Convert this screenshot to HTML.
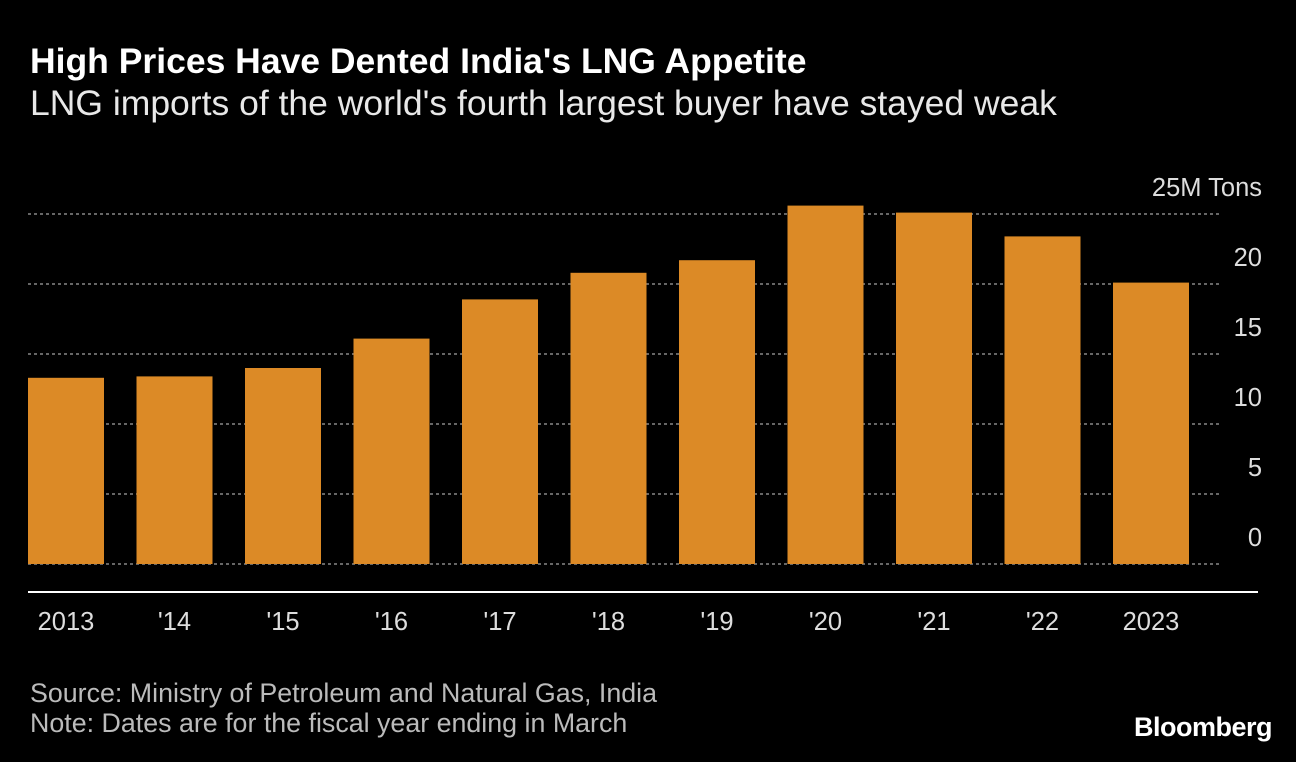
<!DOCTYPE html>
<html><head><meta charset="utf-8"><style>
body{margin:0;background:#000;width:1296px;height:762px;overflow:hidden;font-family:"Liberation Sans",sans-serif;color:#fff}
#title{position:absolute;left:30px;top:44px;font-size:35.5px;line-height:1;font-weight:bold;white-space:nowrap}
#sub{position:absolute;left:30px;top:86px;font-size:35.5px;line-height:1;color:#e8e8e8;white-space:nowrap}
#src{position:absolute;left:30px;top:678px;font-size:26.8px;color:#bbb;line-height:30px;white-space:nowrap}
#logo{position:absolute;right:24px;top:712px;font-size:27px;font-weight:bold;letter-spacing:-0.5px}
svg{position:absolute;left:0;top:0}
</style></head><body>
<div id="title">High Prices Have Dented India's LNG Appetite</div>
<div id="sub">LNG imports of the world's fourth largest buyer have stayed weak</div>
<svg id="chart" width="1296" height="762"></svg>
<div id="src">Source: Ministry of Petroleum and Natural Gas, India<br>Note: Dates are for the fiscal year ending in March</div>
<div id="logo">Bloomberg</div>
<script>
const categories=["2013","'14","'15","'16","'17","'18","'19","'20","'21","'22","2023"];
const values=[13.3,13.4,14.0,16.1,18.9,20.8,21.7,25.6,25.1,23.4,20.1];
const ticks=[0,5,10,15,20,25];
const tickLabels=["0","5","10","15","20","25M Tons"];
const NS="http://www.w3.org/2000/svg";
const svg=document.getElementById('chart');
const y=v=>564-v*14;
const x=i=>28+i*108.5;
function mk(t,a){const e=document.createElementNS(NS,t);for(const k in a)e.setAttribute(k,a[k]);svg.appendChild(e);return e;}
ticks.forEach((t,i)=>{
 const l=mk('line',{x1:28,x2:1220,y1:y(t),y2:y(t),stroke:'#888','stroke-width':1.5,'stroke-dasharray':'3,3'});
 
 
 const tx=mk('text',{x:1262,y:y(t)-18,'text-anchor':'end',fill:'#ddd','font-size':25.5,'font-family':'Liberation Sans, sans-serif'});
 tx.textContent=tickLabels[i];
 
 
});
values.forEach((v,i)=>{
 const r=mk('rect',{x:x(i),y:y(v),width:76,height:y(0)-y(v),fill:'#dc8a26'});
 
 
 const tx=mk('text',{x:x(i)+38,y:630,'text-anchor':'middle',fill:'#ddd','font-size':25.5,'font-family':'Liberation Sans, sans-serif'});
 tx.textContent=categories[i];
 
 
});
const ax=mk('line',{x1:28,x2:1258,y1:592,y2:592,stroke:'#fff','stroke-width':2});


</script>
</body></html>
